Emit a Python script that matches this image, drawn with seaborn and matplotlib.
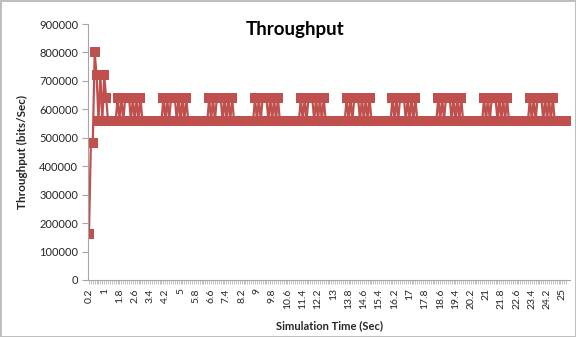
import matplotlib
matplotlib.use("Agg")
import matplotlib.pyplot as plt
import seaborn as sns
import pandas as pd

# Throughput samples (bits/sec), one every 0.1 s starting at 0.2 s
throughput = [
    160000, 480000, 480000, 800000, 720000, 560000, 720000, 560000, 720000, 640000,
    560000, 560000, 560000, 560000, 560000,
    640000, 560000, 640000, 560000, 640000, 640000, 640000, 560000, 640000, 560000, 640000, 560000, 640000,
    560000, 560000, 560000, 560000, 560000, 560000, 560000, 560000, 560000, 560000, 560000,
    640000, 560000, 640000, 560000, 640000, 640000, 640000, 560000, 640000, 560000, 640000, 560000, 640000,
    560000, 560000, 560000, 560000, 560000, 560000, 560000, 560000, 560000, 560000, 560000,
    640000, 560000, 640000, 560000, 640000, 640000, 640000, 560000, 640000, 560000, 640000, 560000, 640000,
    560000, 560000, 560000, 560000, 560000, 560000, 560000, 560000, 560000, 560000, 560000,
    640000, 560000, 640000, 560000, 640000, 640000, 640000, 560000, 640000, 560000, 640000, 560000, 640000,
    560000, 560000, 560000, 560000, 560000, 560000, 560000, 560000, 560000, 560000, 560000,
    640000, 560000, 640000, 560000, 640000, 640000, 640000, 560000, 640000, 560000, 640000, 560000, 640000,
    560000, 560000, 560000, 560000, 560000, 560000, 560000, 560000, 560000, 560000, 560000,
    640000, 560000, 640000, 560000, 640000, 640000, 640000, 560000, 640000, 560000, 640000, 560000, 640000,
    560000, 560000, 560000, 560000, 560000, 560000, 560000, 560000, 560000, 560000, 560000,
    640000, 560000, 640000, 560000, 640000, 640000, 640000, 560000, 640000, 560000, 640000, 560000, 640000,
    560000, 560000, 560000, 560000, 560000, 560000, 560000, 560000, 560000, 560000, 560000,
    640000, 560000, 640000, 560000, 640000, 640000, 640000, 560000, 640000, 560000, 640000, 560000, 640000,
    560000, 560000, 560000, 560000, 560000, 560000, 560000, 560000, 560000, 560000, 560000,
    640000, 560000, 640000, 560000, 640000, 640000, 640000, 560000, 640000, 560000, 640000, 560000, 640000,
    560000, 560000, 560000, 560000, 560000, 560000, 560000, 560000, 560000, 560000, 560000,
    640000, 560000, 640000, 560000, 640000, 640000, 640000, 560000, 640000, 560000, 640000, 560000, 640000,
    560000, 560000, 560000, 560000, 560000, 560000, 560000,
]
times = [round(0.2 + 0.1 * i, 1) for i in range(len(throughput))]
tick_times = times[::8]
tick_labels = [f"{t:g}" for t in tick_times]
y_ticks = [0, 100000, 200000, 300000, 400000, 500000, 600000, 700000, 800000, 900000]

df = pd.DataFrame({"time": times, "throughput": throughput})

sns.set_theme(style="white")
plt.rcParams["font.family"] = ["Lato", "DejaVu Sans"]

LINE = "#C0504D"
GRAY = "#A6A6A6"
TEXT = "#262626"

fig = plt.figure(figsize=(5.76, 3.37), dpi=100)
fig.patch.set_facecolor("white")
fig.patch.set_edgecolor("#BFBFBF")
fig.patch.set_linewidth(1.0)
ax = fig.add_axes([88 / 576, 1 - 280 / 337, 482 / 576, 256 / 337])

sns.lineplot(data=df, x="time", y="throughput", ax=ax, color=LINE,
             linewidth=1.6, marker="s", markersize=6.5, markeredgewidth=0,
             estimator=None, sort=False)

ax.set_xlim(0.15, 25.4)
ax.set_ylim(0, 900000)
ax.set_yticks(y_ticks)
ax.set_yticklabels([str(v) for v in y_ticks], fontsize=8, color=TEXT)
ax.set_xticks(tick_times)
ax.set_xticklabels(tick_labels, rotation=90, fontsize=7.5, color=TEXT)
ax.set_xticks(times, minor=True)

for side in ("top", "right"):
    ax.spines[side].set_visible(False)
for side in ("left", "bottom"):
    ax.spines[side].set_color(GRAY)
    ax.spines[side].set_linewidth(0.8)

ax.tick_params(axis="y", which="major", left=True, length=4, width=0.8, color=GRAY, pad=3)
ax.tick_params(axis="x", which="both", bottom=True, length=3, width=0.5, color=GRAY, pad=3)
ax.grid(False)

ax.set_xlabel("Simulation Time (Sec)", fontsize=8, fontweight="bold", color=TEXT, labelpad=8)
ax.set_ylabel("Throughput (bits/Sec)", fontsize=8.5, fontweight="bold", color=TEXT, labelpad=8)
fig.text(295 / 576, 1 - 29 / 337, "Throughput", ha="center", va="center",
         fontsize=13.5, fontweight="bold", color="black")

fig.savefig("out.png", dpi=100, facecolor=fig.get_facecolor(), edgecolor=fig.get_edgecolor())
